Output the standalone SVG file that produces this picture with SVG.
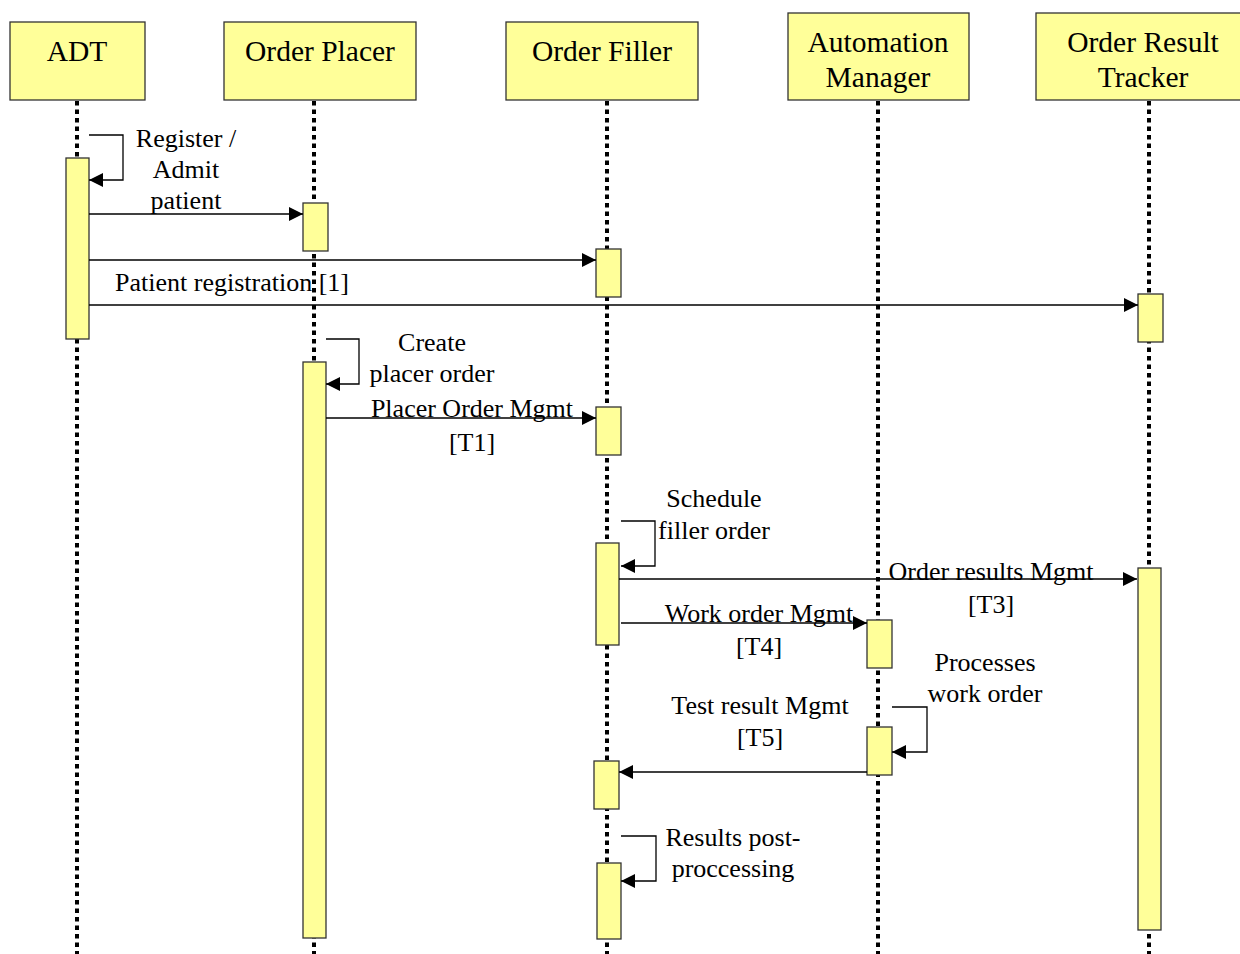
<svg xmlns="http://www.w3.org/2000/svg" width="1240" height="954" viewBox="0 0 1240 954">
<style>
.hdr{fill:#ffff99;stroke:#333;stroke-width:1.3}
.act{fill:#ffff99;stroke:#333;stroke-width:1.3}
.life{stroke:#000;stroke-width:4;stroke-dasharray:4.5 4;fill:none}
.msg{stroke:#000;stroke-width:1.3;fill:none}
.t{font-family:"Liberation Serif","Times New Roman",serif;fill:#000;text-anchor:middle}
.h{font-size:29.5px}
.m{font-size:26px}
</style>
<defs>
<marker id="arr" viewBox="0 0 14 14" refX="14" refY="7" markerWidth="14" markerHeight="14" markerUnits="userSpaceOnUse" orient="auto">
<path d="M0,0 L14,7 L0,14 Z" fill="#000"/>
</marker>
</defs>
<rect width="1240" height="954" fill="#fff"/>

<g id="lifelines">
<line class="life" x1="77" y1="101" x2="77" y2="954"/>
<line class="life" x1="314" y1="101" x2="314" y2="954"/>
<line class="life" x1="607" y1="101" x2="607" y2="954"/>
<line class="life" x1="878" y1="101" x2="878" y2="954"/>
<line class="life" x1="1149" y1="101" x2="1149" y2="954"/>
</g>

<g id="adt">
<rect class="hdr" x="10" y="22" width="135" height="78"/>
<text class="t h" x="77" y="61">ADT</text>
<rect class="act" x="66" y="158" width="23" height="181"/>
</g>

<g id="order-placer">
<rect class="hdr" x="224" y="22" width="192" height="78"/>
<text class="t h" x="320" y="61">Order Placer</text>
<rect class="act" x="303" y="203" width="25" height="48"/>
<rect class="act" x="303" y="362" width="23" height="576"/>
</g>

<g id="order-filler">
<rect class="hdr" x="506" y="22" width="192" height="78"/>
<text class="t h" x="602" y="61">Order Filler</text>
<rect class="act" x="596" y="249" width="25" height="48"/>
<rect class="act" x="596" y="407" width="25" height="48"/>
<rect class="act" x="596" y="543" width="23" height="102"/>
<rect class="act" x="594" y="761" width="25" height="48"/>
<rect class="act" x="597" y="863" width="24" height="76"/>
</g>

<g id="automation-manager">
<rect class="hdr" x="788" y="13" width="181" height="87"/>
<text class="t h" x="878" y="52">Automation</text>
<text class="t h" x="878" y="87">Manager</text>
<rect class="act" x="867" y="620" width="25" height="48"/>
<rect class="act" x="867" y="727" width="25" height="48"/>
</g>

<g id="order-result-tracker">
<rect class="hdr" x="1036" y="13" width="215" height="87"/>
<text class="t h" x="1143" y="52">Order Result</text>
<text class="t h" x="1143" y="87">Tracker</text>
<rect class="act" x="1138" y="294" width="25" height="48"/>
<rect class="act" x="1138" y="568" width="23" height="362"/>
</g>

<g id="connectors">
<path class="msg" d="M89,135 H123 V180 H89" marker-end="url(#arr)"/>
<line class="msg" x1="89" y1="214" x2="303" y2="214" marker-end="url(#arr)"/>
<line class="msg" x1="89" y1="260" x2="596" y2="260" marker-end="url(#arr)"/>
<line class="msg" x1="89" y1="305" x2="1138" y2="305" marker-end="url(#arr)"/>
<path class="msg" d="M326,339 H359 V384 H326" marker-end="url(#arr)"/>
<line class="msg" x1="326" y1="418" x2="596" y2="418" marker-end="url(#arr)"/>
<path class="msg" d="M621,521 H655 V566 H621" marker-end="url(#arr)"/>
<line class="msg" x1="619" y1="579" x2="1137" y2="579" marker-end="url(#arr)"/>
<line class="msg" x1="621" y1="623" x2="867" y2="623" marker-end="url(#arr)"/>
<path class="msg" d="M892,707 H927 V752 H892" marker-end="url(#arr)"/>
<line class="msg" x1="867" y1="772" x2="619" y2="772" marker-end="url(#arr)"/>
<path class="msg" d="M621,836 H656 V881 H621" marker-end="url(#arr)"/>
</g>

<g id="labels">
<text class="t m" x="186" y="147">Register /</text>
<text class="t m" x="186" y="178">Admit</text>
<text class="t m" x="186" y="209">patient</text>
<text class="t m" x="232" y="291">Patient registration [1]</text>
<text class="t m" x="432" y="351">Create</text>
<text class="t m" x="432" y="382">placer order</text>
<text class="t m" x="472" y="417">Placer Order Mgmt</text>
<text class="t m" x="472" y="451">[T1]</text>
<text class="t m" x="714" y="507">Schedule</text>
<text class="t m" x="714" y="539">filler order</text>
<text class="t m" x="991" y="580">Order results Mgmt</text>
<text class="t m" x="991" y="613">[T3]</text>
<text class="t m" x="759" y="622">Work order Mgmt</text>
<text class="t m" x="759" y="655">[T4]</text>
<text class="t m" x="985" y="671">Processes</text>
<text class="t m" x="985" y="702">work order</text>
<text class="t m" x="760" y="714">Test result Mgmt</text>
<text class="t m" x="760" y="746">[T5]</text>
<text class="t m" x="733" y="846">Results post-</text>
<text class="t m" x="733" y="877">proccessing</text>
</g>
</svg>
